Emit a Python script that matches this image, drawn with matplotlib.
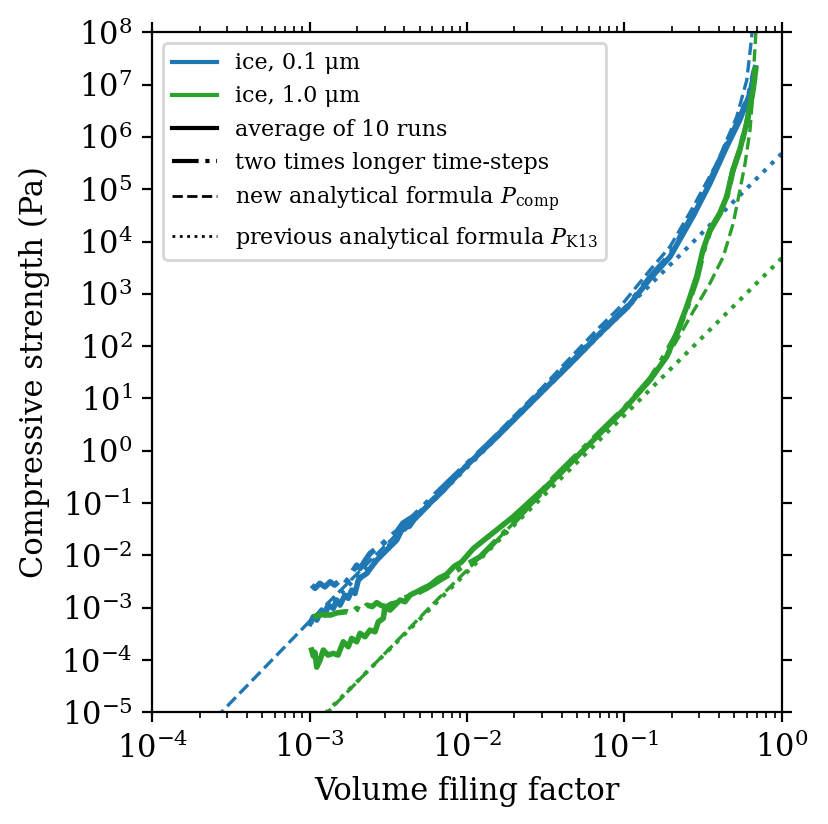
import numpy as np
import matplotlib
matplotlib.use("Agg")
import matplotlib.pyplot as plt
from matplotlib.lines import Line2D
from matplotlib.ticker import LogLocator, NullLocator

plt.rcParams['font.family'] = 'serif'
plt.rcParams['font.serif'] = ['DejaVu Serif']
plt.rcParams['mathtext.fontset'] = 'dejavuserif'

# ---- data ----
# ice, 0.1 um : average of 10 runs
phi_b_avg = [1.005e-3, 1.055e-3, 1.109e-3, 1.193e-3, 1.252e-3, 1.314e-3, 1.414e-3, 1.485e-3,
             1.559e-3, 1.677e-3, 1.760e-3, 1.850e-3, 1.942e-3, 2.038e-3, 2.141e-3, 2.304e-3,
             2.480e-3, 2.668e-3, 2.938e-3, 3.240e-3, 3.574e-3, 3.9e-3, 4.3e-3, 4.6e-3, 5.2e-3,
             5.8e-3, 7.0e-3, 8.5e-3, 1.0e-2, 1.55e-2, 2.0e-2, 3.0e-2, 4.1e-2, 5.0e-2, 7.0e-2,
             0.105, 0.1456, 0.195, 0.274, 0.350, 0.447, 0.541, 0.629, 0.68]
P_b_avg = [5.0e-4, 6.7e-4, 5.8e-4, 9.0e-4, 7.2e-4, 1.12e-3, 9.7e-4, 1.40e-3,
           1.12e-3, 1.74e-3, 1.51e-3, 2.17e-3, 1.87e-3, 3.37e-3, 3.9e-3, 4.5e-3,
           6.1e-3, 8.1e-3, 1.09e-2, 1.46e-2, 1.96e-2, 3.3e-2, 3.6e-2, 4.8e-2, 7.0e-2,
           9.9e-2, 0.17, 0.32, 0.53, 1.85, 4.0, 13.5, 34.0, 62.0, 175.0,
           560.0, 1.95e3, 5.1e3, 3.1e4, 1.3e5, 6.5e5, 2.1e6, 6.8e6, 2.1e7]

# ice, 0.1 um : two times longer time-steps
phi_b_dt = [1.03e-3, 1.082e-3, 1.16e-3, 1.25e-3, 1.35e-3, 1.44e-3, 1.56e-3, 1.68e-3, 1.80e-3,
            1.895e-3, 1.99e-3, 2.089e-3, 2.26e-3, 2.418e-3, 2.668e-3, 2.938e-3, 3.24e-3,
            3.6e-3, 3.92e-3, 4.54e-3, 5.25e-3, 6.41e-3, 7.8e-3, 1.0e-2, 1.55e-2, 2.0e-2,
            3.0e-2, 4.1e-2, 5.0e-2, 7.0e-2, 0.105, 0.1456, 0.195, 0.274, 0.350, 0.447,
            0.541, 0.62, 0.67]
P_b_dt = [2.7e-3, 2.34e-3, 2.92e-3, 2.5e-3, 3.13e-3, 2.7e-3, 3.37e-3, 2.92e-3, 3.9e-3,
          5.2e-3, 6.5e-3, 5.6e-3, 8.1e-3, 1.09e-2, 1.36e-2, 1.7e-2, 2.27e-2,
          2.9e-2, 4.15e-2, 5.5e-2, 8.5e-2, 0.155, 0.275, 0.56, 1.95, 4.1,
          14.0, 36.0, 64.0, 185.0, 590.0, 2.1e3, 5.6e3, 3.4e4, 1.45e5, 7.2e5,
          2.3e6, 6.5e6, 1.9e7]

# ice, 0.1 um : new analytical formula
phi_b_new = [2.5e-4, 1.0e-3, 1.0e-2, 3.0e-2, 4.1e-2, 6.67e-2, 9.38e-2, 0.1456, 0.195,
             0.274, 0.386, 0.518, 0.600, 0.645, 0.66]
P_b_new = [7.5e-6, 5.5e-4, 0.56, 16.0, 43.5, 203.0, 560.0, 2.85e3, 7.96e3,
           4.6e4, 3.1e5, 2.43e6, 1.22e7, 8.2e7, 5e8]

# ice, 0.1 um : previous analytical formula (K13)
phi_k13 = [1.0e-3, 1.0e-2, 1.0e-1, 1.0]
P_b_k13 = [4.8e-4, 0.48, 480.0, 4.8e5]

# ice, 1.0 um : average of 10 runs
phi_g_avg = [1.03e-3, 1.055e-3, 1.08e-3, 1.109e-3, 1.164e-3, 1.221e-3, 1.308e-3, 1.414e-3,
             1.514e-3, 1.636e-3, 1.76e-3, 1.85e-3, 1.99e-3, 2.089e-3, 2.248e-3, 2.418e-3,
             2.603e-3, 2.731e-3, 2.938e-3, 3.012e-3, 3.24e-3, 3.487e-3, 3.752e-3, 4.036e-3,
             4.343e-3, 4.79e-3, 5.277e-3, 5.82e-3, 6.58e-3, 7.4e-3, 8.3e-3, 9.2e-3, 1.10e-2,
             1.97e-2, 3.535e-2, 6.05e-2, 9.85e-2, 0.1456, 0.1858, 0.215, 0.249, 0.288, 0.316,
             0.350, 0.405, 0.447, 0.490, 0.541, 0.600, 0.658, 0.684]
P_g_avg = [1.55e-4, 1.19e-4, 1.4e-4, 7.3e-5, 9.95e-5, 1.55e-4, 1.24e-4, 1.34e-4,
           1.24e-4, 2.23e-4, 1.79e-4, 2.59e-4, 2.23e-4, 3.23e-4, 2.78e-4, 3.73e-4,
           3.46e-4, 5.37e-4, 6.24e-4, 1.04e-3, 9.0e-4, 1.12e-3, 1.40e-3, 1.30e-3,
           1.74e-3, 2.01e-3, 2.34e-3, 2.70e-3, 3.63e-3, 4.3e-3, 6.2e-3, 7.4e-3, 1.36e-2,
           5.5e-2, 0.275, 1.38, 6.0, 22.5, 62.7, 176.0, 566.0, 2.1e3, 6.9e3,
           1.66e4, 3.5e4, 7.2e4, 2.33e5, 5.6e5, 1.85e6, 7.9e6, 2.0e7]

# ice, 1.0 um : two times longer time-steps
phi_g_dt = [1.05e-3, 1.2e-3, 1.35e-3, 1.5e-3, 1.72e-3, 1.85e-3, 1.99e-3, 2.15e-3, 2.31e-3,
            2.5e-3, 2.67e-3, 2.85e-3, 3.09e-3, 3.3e-3, 3.49e-3, 3.94e-3, 4.56e-3, 5.55e-3,
            6.74e-3, 8.6e-3, 1.21e-2, 1.97e-2, 3.5e-2, 6.0e-2, 0.1, 0.146, 0.1685,
            0.215, 0.25, 0.29, 0.32, 0.35, 0.405, 0.45, 0.49, 0.54, 0.6, 0.655, 0.682]
P_g_dt = [6.7e-4, 7.4e-4, 7.2e-4, 8.0e-4, 8.4e-4, 7.8e-4, 9.7e-4, 8.6e-4, 1.12e-3,
          1.05e-3, 1.25e-3, 1.1e-3, 1.04e-3, 1.18e-3, 1.21e-3, 1.51e-3, 1.74e-3, 2.34e-3,
          3.37e-3, 5.2e-3, 9.4e-3, 4.1e-2, 0.29, 1.45, 6.5, 24.0, 46.9,
          170.0, 540.0, 2.0e3, 7.0e3, 1.6e4, 3.4e4, 7.5e4, 2.3e5, 5.5e5, 1.8e6, 7.5e6, 1.8e7]

# ice, 1.0 um : new analytical formula
phi_g_new = [1.2e-3, 1.3e-3, 6.58e-3, 1.0e-2, 1.55e-2, 0.1, 0.146, 0.186, 0.226, 0.274,
             0.350, 0.425, 0.492, 0.543, 0.585, 0.629, 0.654, 0.667, 0.683, 0.69]
P_g_new = [7.9e-6, 1.0e-5, 1.5e-3, 5.2e-3, 1.96e-2, 6.3, 22.0, 60.0, 165.0, 460.0,
           1.59e3, 5.1e3, 2.23e4, 9.7e4, 3.1e5, 1.36e6, 5.9e6, 2.55e7, 8.2e7, 3e8]

# ice, 1.0 um : previous analytical formula (K13)
P_g_k13 = [4.8e-6, 4.8e-3, 4.8, 4.8e3]

c_b = '#1f77b4'
c_g = '#2ca02c'

fig = plt.figure(figsize=(829 / 200, 824 / 200), dpi=200)
ax = fig.add_axes([152.3 / 829, 1 - 712.3 / 824, 629.4 / 829, 680 / 824])

ax.plot(phi_b_avg, P_b_avg, color=c_b, lw=2)
ax.plot(phi_b_dt, P_b_dt, color=c_b, lw=2, ls='-.')
ax.plot(phi_b_new, P_b_new, color=c_b, lw=1.2, ls='--')
ax.plot(phi_k13, P_b_k13, color=c_b, lw=1.5, ls=':')

ax.plot(phi_g_avg, P_g_avg, color=c_g, lw=2)
ax.plot(phi_g_dt, P_g_dt, color=c_g, lw=2, ls='-.')
ax.plot(phi_g_new, P_g_new, color=c_g, lw=1.2, ls='--')
ax.plot(phi_k13, P_g_k13, color=c_g, lw=1.5, ls=':')

ax.set_xscale('log')
ax.set_yscale('log')
ax.set_xlim(1e-4, 1)
ax.set_ylim(1e-5, 1e8)
ax.yaxis.set_major_locator(LogLocator(base=10, numticks=20))
ax.yaxis.set_minor_locator(NullLocator())
ax.tick_params(which='both', top=True, right=True, direction='out')
ax.tick_params(which='major', length=3.6)
ax.tick_params(labelsize=11)

ax.set_xlabel('Volume filing factor', fontsize=11)
ax.set_ylabel('Compressive strength (Pa)', fontsize=11)

handles = [
    Line2D([], [], color=c_b, lw=1.5),
    Line2D([], [], color=c_g, lw=1.5),
    Line2D([], [], color='k', lw=1.5),
    Line2D([], [], color='k', lw=1.5, ls='-.'),
    Line2D([], [], color='k', lw=1.0, ls='--'),
    Line2D([], [], color='k', lw=1.0, ls=':'),
]
labels = ['ice, 0.1 μm', 'ice, 1.0 μm', 'average of 10 runs', 'two times longer time-steps',
          r'new analytical formula $P_{\rm comp}$', r'previous analytical formula $P_{\rm K13}$']
ax.legend(handles, labels, loc='upper left', fontsize=8)

fig.savefig('out.png', dpi=200)
